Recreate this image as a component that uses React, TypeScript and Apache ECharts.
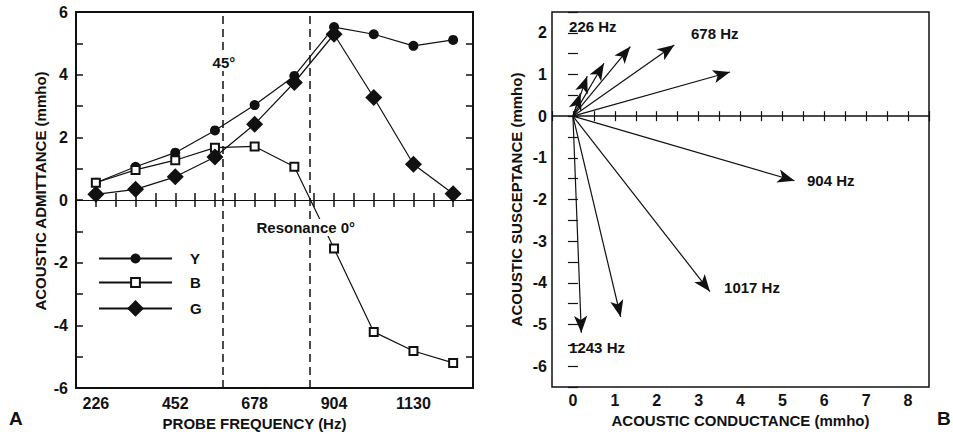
import React, { useEffect, useRef } from "react";
import * as echarts from "echarts";

// ---- data ----
const freqs = [226, 339, 452, 565, 678, 791, 904, 1017, 1130, 1243];
const admittanceY = [0.55, 1.06, 1.51, 2.22, 3.03, 3.96, 5.52, 5.29, 4.92, 5.11];
const susceptanceB = [0.55, 0.96, 1.27, 1.67, 1.71, 1.06, -1.55, -4.21, -4.82, -5.2];
const conductanceG = [0.18, 0.34, 0.74, 1.37, 2.42, 3.75, 5.29, 3.27, 1.14, 0.2];
const freqTickLabels = [226, 452, 678, 904, 1130];
const phaseLineFreqs = [586, 835];
const phaseLabels = ["45°", "Resonance 0°"];
const phaseLabelX = [592, 825];
const phaseLabelY = [4.37, -0.89];
const vectorLabels = ["226 Hz", "678 Hz", "904 Hz", "1017 Hz", "1243 Hz"];
const vectorLabelX = [-0.08, 2.83, 5.6, 3.62, -0.08];
const vectorLabelY = [2.14, 1.97, -1.55, -4.13, -5.57];

const FONT = '"Liberation Sans", Arial, Helvetica, sans-serif';
const INK = "#111";

const boldText = (size: number) => ({
  fontFamily: FONT,
  fontWeight: "bold" as const,
  fontSize: size,
  color: INK,
  opacity: 1,
});

function buildOption() {
  const tickStyle = (len: number, w: number) => ({ show: true, inside: true, length: len, lineStyle: { color: INK, width: w } });
  const leftX = {
    type: "value", gridIndex: 0, min: 169.5, max: 1299.5, interval: 56.5,
    axisLine: { show: false }, splitLine: { show: false }, axisTick: tickStyle(7, 1.5),
  };
  const leftY = {
    type: "value", gridIndex: 0, min: -6, max: 6, interval: 1,
    axisLine: { show: false }, splitLine: { show: false }, axisTick: tickStyle(7, 1.5),
  };
  const rightX = {
    type: "value", gridIndex: 1, min: -0.5, max: 8.5, interval: 0.5,
    axisLine: { show: false }, splitLine: { show: false }, axisTick: tickStyle(5, 1.2),
  };
  const rightY = {
    type: "value", gridIndex: 1, min: -6.5, max: 2.5, interval: 0.5,
    axisLine: { show: false }, splitLine: { show: false }, axisTick: tickStyle(5, 1.2),
  };
  const intLabel = (v: number) => (Math.abs(v - Math.round(v)) < 1e-6 ? String(Math.round(v)) : "");

  const lineBase = {
    type: "line", xAxisIndex: 0, yAxisIndex: 0, silent: true,
    lineStyle: { color: INK, width: 1.2 },
  };
  const legendBase = {
    left: 93, orient: "vertical", selectedMode: false, itemWidth: 73,
    textStyle: { ...boldText(15), padding: [0, 0, 0, 13] },
  };

  return {
    animation: false,
    backgroundColor: "#fff",
    textStyle: { fontFamily: FONT, color: INK },
    grid: [
      { left: 76, right: 480, top: 12, bottom: 48, show: true, borderColor: INK, borderWidth: 2, backgroundColor: "transparent" },
      { left: 552, right: 24, top: 12, bottom: 49, show: true, borderColor: INK, borderWidth: 1.5, backgroundColor: "transparent" },
    ],
    xAxis: [
      {
        ...leftX, position: "bottom",
        name: "PROBE FREQUENCY (Hz)", nameLocation: "middle", nameGap: 26,
        nameTextStyle: { ...boldText(15), padding: [0, 40, 0, 0] },
        axisLabel: {
          ...boldText(16), margin: 7,
          formatter: (v: number) => {
            const f = freqTickLabels.find((t) => Math.abs(t - v) < 0.01);
            return f === undefined ? "" : String(f);
          },
        },
      },
      { ...leftX, position: "top", axisLabel: { show: false } },
      {
        ...rightX, position: "bottom",
        name: "ACOUSTIC CONDUCTANCE (mmho)", nameLocation: "middle", nameGap: 26,
        nameTextStyle: boldText(15),
        axisLabel: { ...boldText(16), margin: 5, formatter: intLabel },
      },
      { ...rightX, position: "top", axisLabel: { show: false } },
    ],
    yAxis: [
      {
        ...leftY, position: "left",
        name: "ACOUSTIC ADMITTANCE (mmho)", nameLocation: "middle", nameGap: 28,
        nameTextStyle: { ...boldText(15), padding: [0, 0, 0, 18] },
        axisLabel: {
          ...boldText(16), margin: 8,
          formatter: (v: number) => (Math.round(v) % 2 === 0 ? String(Math.round(v)) : ""),
        },
      },
      { ...leftY, position: "right", axisLabel: { show: false } },
      {
        ...rightY, position: "left",
        name: "ACOUSTIC SUSCEPTANCE (mmho)", nameLocation: "middle", nameGap: 28,
        nameTextStyle: boldText(15),
        axisLabel: { ...boldText(16), margin: 5, formatter: intLabel },
      },
      { ...rightY, position: "right", axisLabel: { show: false } },
    ],
    legend: [
      { ...legendBase, data: ["Y"], top: 246, itemHeight: 12.5 },
      { ...legendBase, data: ["B"], top: 270, itemHeight: 11 },
      { ...legendBase, data: ["G"], top: 295, itemHeight: 21 },
    ],
    graphic: [
      { type: "text", left: 9, top: 409, style: { text: "A", fill: INK, font: `bold 19px ${FONT}` } },
      { type: "text", left: 937, top: 409, style: { text: "B", fill: INK, font: `bold 19px ${FONT}` } },
    ],
    series: [
      {
        ...lineBase, name: "Y",
        data: freqs.map((f, i) => [f, admittanceY[i]]),
        symbol: "circle", symbolSize: 10,
        itemStyle: { color: INK }, z: 3,
      },
      {
        ...lineBase, name: "B",
        data: freqs.map((f, i) => [f, susceptanceB[i]]),
        symbol: "rect", symbolSize: 8,
        itemStyle: { color: "#fff", borderColor: INK, borderWidth: 2 }, z: 3,
      },
      {
        ...lineBase, name: "G",
        data: freqs.map((f, i) => [f, conductanceG[i]]),
        symbol: "diamond", symbolSize: 17,
        itemStyle: { color: INK }, z: 4,
      },
      {
        type: "scatter", name: "phase", xAxisIndex: 0, yAxisIndex: 0, silent: true, z: 6,
        symbolSize: 1,
        itemStyle: { color: "rgba(0,0,0,0)", opacity: 1 },
        data: phaseLabels.map((t, i) => ({ name: t, value: [phaseLabelX[i], phaseLabelY[i]] })),
        label: {
          show: true, position: [0, 0], align: "center", verticalAlign: "middle",
          formatter: "{b}", ...boldText(15),
          textBorderWidth: 0,
          backgroundColor: "#fff", padding: [1, 1],
        },
        markLine: {
          silent: true, symbol: "none", label: { show: false }, z: 1,
          data: [
            ...phaseLineFreqs.map((f) => ({ xAxis: f, lineStyle: { color: INK, width: 1.5, type: [8, 5], opacity: 1 } })),
            { yAxis: 0, lineStyle: { color: INK, width: 1.2, type: "solid", opacity: 1 } },
          ],
        },
      },
      {
        type: "lines", name: "vectors", coordinateSystem: "cartesian2d",
        xAxisIndex: 2, yAxisIndex: 2, silent: true,
        symbol: ["none", "arrow"],
        symbolSize: [[1, 1], [10, 17]],
        symbolOffset: [0, [0, 8]],
        lineStyle: { color: INK, width: 1.2, opacity: 1, curveness: 0 },
        data: conductanceG.map((g, i) => ({ coords: [[0, 0], [g, susceptanceB[i]]] })),
      },
      {
        type: "scatter", name: "vectorLabels", xAxisIndex: 2, yAxisIndex: 2, silent: true,
        symbolSize: 1,
        itemStyle: { color: "rgba(0,0,0,0)", opacity: 1 },
        data: vectorLabels.map((t, i) => ({ name: t, value: [vectorLabelX[i], vectorLabelY[i]] })),
        label: {
          show: true, position: [0, 0], align: "left", verticalAlign: "middle",
          formatter: "{b}", ...boldText(15), textBorderWidth: 0,
        },
        markLine: {
          silent: true, symbol: "none", label: { show: false },
          data: [{ yAxis: 0, lineStyle: { color: INK, width: 1.5, type: "solid", opacity: 1 } }],
        },
      },
    ],
  };
}

export default function App() {
  const ref = useRef<HTMLDivElement>(null);
  useEffect(() => {
    if (!ref.current) return;
    const chart = echarts.init(ref.current, null, { renderer: "svg" });
    chart.setOption(buildOption() as any);
    return () => chart.dispose();
  }, []);
  return <div ref={ref} style={{ position: "fixed", left: 0, top: 0, width: 953, height: 436 }} />;
}
